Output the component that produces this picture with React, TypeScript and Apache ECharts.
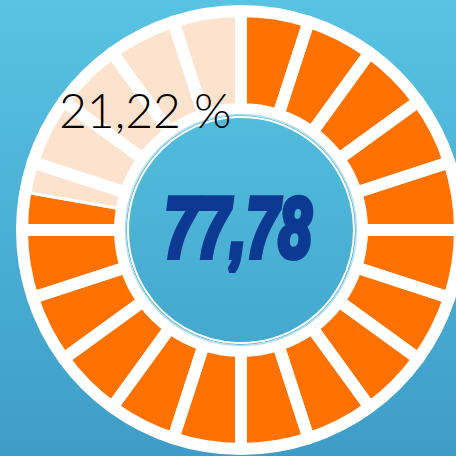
import React, { useEffect, useRef } from "react";
import * as echarts from "echarts";

const segments = [1, 1, 1, 1, 1, 1, 1, 1, 1, 1, 1, 1, 1, 1, 1, 1, 1, 1, 1, 1];
const mainValue = 77.78;
const restValue = 22.22;
const mainLabel = "77,78";
const restLabel = "21,22 %";

export default function App() {
  const ref = useRef<HTMLDivElement>(null);
  useEffect(() => {
    document.body.style.margin = "0";
    const chart = echarts.init(ref.current!, null, { renderer: "svg" });
    const cx = 241;
    const cy = 230;
    chart.setOption({
      animation: false,
      series: [
        {
          type: "pie",
          silent: true,
          center: [cx, cy],
          radius: [121, 219],
          startAngle: 90,
          label: { show: false },
          labelLine: { show: false },
          emphasis: { disabled: true },
          itemStyle: { borderColor: "#ffffff", borderWidth: 3 },
          data: [
            { value: mainValue, name: "value", itemStyle: { color: "#ff7100" } },
            { value: restValue, name: "rest", itemStyle: { color: "#fde2cd" } },
          ],
          z: 2,
        },
        {
          type: "pie",
          silent: true,
          center: [cx, cy],
          radius: [121, 219],
          startAngle: 90,
          label: { show: false },
          labelLine: { show: false },
          emphasis: { disabled: true },
          itemStyle: { color: "rgba(0,0,0,0)", borderColor: "#ffffff", borderWidth: 12 },
          data: segments.map((v, i) => ({ value: v, name: "s" + i })),
          z: 3,
        },
      ],
      graphic: [
        {
          type: "circle",
          z: 10,
          shape: { cx, cy, r: 115.5 },
          style: { fill: "none", stroke: "#b5e0f2", lineWidth: 1.5 },
        },
        {
          type: "circle",
          z: 10,
          shape: { cx, cy, r: 113 },
          style: {
            fill: new echarts.graphic.LinearGradient(0, 0, 0, 1, [
              { offset: 0, color: "#52bcdd" },
              { offset: 1, color: "#44a8cf" },
            ]),
            stroke: "#ffffff",
            lineWidth: 2,
          },
        },
        {
          type: "text",
          z: 20,
          x: 238,
          y: 227,
          scaleX: 0.69,
          style: {
            text: mainLabel,
            x: 0,
            y: 0,
            align: "center",
            verticalAlign: "middle",
            font: "italic bold 85px 'Liberation Sans', sans-serif",
            fill: "#0c3a92",
            stroke: "#0c3a92",
            lineWidth: 6,
            lineJoin: "round",
          },
        },
        {
          type: "text",
          z: 20,
          x: 59,
          y: 109,
          style: {
            text: restLabel,
            x: 0,
            y: 0,
            align: "left",
            verticalAlign: "middle",
            font: "300 48px Lato, sans-serif",
            fill: "#000000",
          },
        },
      ],
    });
    return () => chart.dispose();
  }, []);
  return (
    <div
      ref={ref}
      style={{
        width: 456,
        height: 456,
        background: "linear-gradient(to bottom, #58c3e2, #3e9dc8)",
      }}
    />
  );
}
